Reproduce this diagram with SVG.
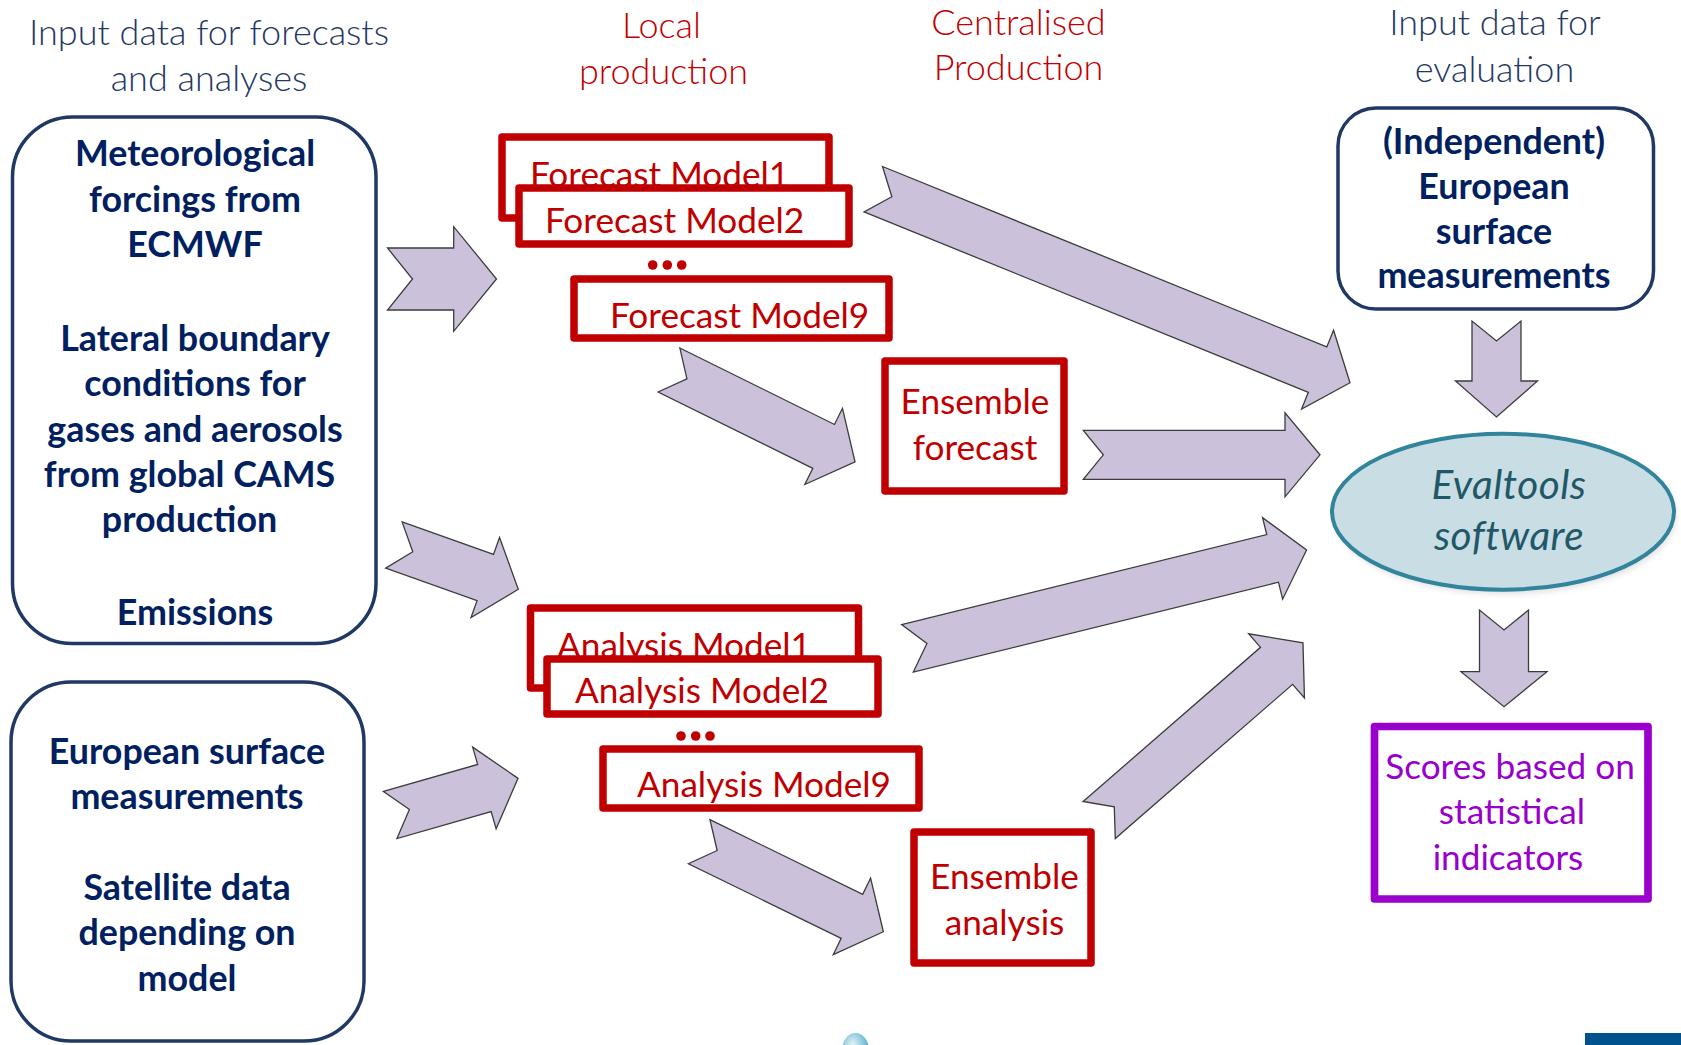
<svg xmlns="http://www.w3.org/2000/svg" width="1681" height="1045" viewBox="0 0 1681 1045">
<defs>
<style>
text{font-family:Lato,'Open Sans','Liberation Sans',sans-serif;font-size:35.2px}
.t{font-weight:300;fill:#1f3864;text-anchor:middle;font-size:36px}
.tr{font-weight:300;fill:#c00000;text-anchor:middle;font-size:36px}
.b{font-weight:700;fill:#002060;text-anchor:middle;font-size:35.8px}
.rt{fill:#c00000}
.rtc{fill:#c00000;text-anchor:middle}
.nb{fill:none;stroke:#1f3864;stroke-width:3.5}
.rb{fill:#fff;stroke:#c00000;stroke-width:7.5;stroke-linejoin:round}
.arr{fill:#ccc1da;stroke:#3c3c3c;stroke-width:1.3;stroke-linejoin:miter}
.dot{fill:#c00000}
.ev{fill:#215868;font-style:italic;text-anchor:middle;font-size:40.5px;letter-spacing:0.5px}
.sc{fill:#9900cc;text-anchor:middle}
</style>
<radialGradient id="bub" cx="0.4" cy="0.35" r="0.7">
<stop offset="0" stop-color="#e6f5fa"/>
<stop offset="1" stop-color="#3fa3c4"/>
</radialGradient>
<filter id="sh" x="-0.1" y="-0.1" width="1.2" height="1.3"><feGaussianBlur stdDeviation="3"/></filter>
</defs>
<rect width="1681" height="1045" fill="#fff"/>

<g id="titles">
<text class="t" x="209" y="45">Input data for forecasts</text>
<text class="t" x="209" y="90.7">and analyses</text>
<text class="tr" x="661.5" y="38">Local</text>
<text class="tr" x="663.5" y="84">production</text>
<text class="tr" x="1018.5" y="35">Centralised</text>
<text class="tr" x="1018.5" y="80">Production</text>
<text class="t" x="1495" y="35">Input data for</text>
<text class="t" x="1494.5" y="81.7">evaluation</text>
</g>

<g id="connectors">
<polygon class="arr" transform="translate(387.5,279)" points="0,-31 66.2,-31 66.2,-52.3 109,0 66.2,52.3 66.2,31 0,31 25,0"/>
<polygon class="arr" transform="translate(393.9,545) rotate(19.6)" points="0,-24.5 97,-24.5 97,-42.5 132,0 97,42.5 97,24.5 0,24.5 20,0"/>
<polygon class="arr" transform="translate(390.2,815) rotate(-16)" points="0,-24.5 98,-24.5 98,-42.5 133,0 98,42.5 98,24.5 0,24.5 20,0"/>
<polygon class="arr" transform="translate(669,370) rotate(26.3)" points="0,-24.5 172.5,-24.5 172.5,-42.5 207.5,0 172.5,42.5 172.5,24.5 0,24.5 20,0"/>
<polygon class="arr" transform="translate(699.2,841.7) rotate(26.05)" points="0,-24.5 170,-24.5 170,-42.5 205,0 170,42.5 170,24.5 0,24.5 20,0"/>
<polygon class="arr" transform="translate(873.3,189.2) rotate(22.1)" points="0,-24.5 479.5,-24.5 479.5,-42.5 514.5,0 479.5,42.5 479.5,24.5 0,24.5 20,0"/>
<polygon class="arr" transform="translate(1083.3,454.8)" points="0,-24.5 201.7,-24.5 201.7,-42 236.7,0 201.7,42 201.7,24.5 0,24.5 20,0"/>
<polygon class="arr" transform="translate(907.5,648.3) rotate(-13.83)" points="0,-24.5 376,-24.5 376,-42 411,0 376,42 376,24.5 0,24.5 20,0"/>
<polygon class="arr" transform="translate(1099.2,820) rotate(-41)" points="0,-24.5 235,-24.5 235,-42.5 270,0 235,42.5 235,24.5 0,24.5 20,0"/>
<polygon class="arr" transform="translate(1496.5,321) rotate(90)" points="0,-24.5 60,-24.5 60,-41 96,0 60,41 60,24.5 0,24.5 20,0"/>
<polygon class="arr" transform="translate(1504,610) rotate(90)" points="0,-24.5 61.7,-24.5 61.7,-43 96.7,0 61.7,43 61.7,24.5 0,24.5 20,0"/>
</g>

<g id="inputs-forecast">
<rect class="nb" x="12.5" y="117" width="363.5" height="526.5" rx="60"/>
<text class="b" x="195" y="165.7">Meteorological</text>
<text class="b" x="195" y="211.5">forcings from</text>
<text class="b" x="195" y="257">ECMWF</text>
<text class="b" x="195" y="350.5">Lateral boundary</text>
<text class="b" x="195" y="395.5">conditions for</text>
<text class="b" x="195" y="441.5">gases and aerosols</text>
<text class="b" x="189.5" y="486.5">from global CAMS</text>
<text class="b" x="189.5" y="531.5">production</text>
<text class="b" x="195" y="624.5">Emissions</text>
</g>

<g id="inputs-analysis">
<rect class="nb" x="11" y="682" width="353" height="359" rx="60"/>
<text class="b" x="187" y="764">European surface</text>
<text class="b" x="187" y="809">measurements</text>
<text class="b" x="187" y="899.5">Satellite data</text>
<text class="b" x="187" y="945">depending on</text>
<text class="b" x="187" y="990.5">model</text>
</g>

<g id="forecast-model1">
<rect class="rb" x="502" y="137" width="327" height="81"/>
<text class="rt" x="530" y="187">Forecast Model1</text>
</g>
<g id="forecast-model2">
<rect class="rb" x="519" y="188" width="330" height="56"/>
<text class="rt" x="545" y="233">Forecast Model2</text>
</g>
<g id="forecast-dots">
<circle class="dot" cx="652.7" cy="265" r="4.8"/>
<circle class="dot" cx="667.3" cy="265" r="4.8"/>
<circle class="dot" cx="681.7" cy="265" r="4.8"/>
</g>
<g id="forecast-model9">
<rect class="rb" x="574" y="279" width="315" height="59"/>
<text class="rt" x="610" y="328">Forecast Model9</text>
</g>
<g id="ensemble-forecast">
<rect class="rb" x="885" y="361" width="179" height="130"/>
<text class="rtc" x="975" y="414">Ensemble</text>
<text class="rtc" x="975" y="460">forecast</text>
</g>

<g id="analysis-model1">
<rect class="rb" x="530.5" y="608" width="328" height="80"/>
<text class="rt" x="557" y="658">Analysis Model1</text>
</g>
<g id="analysis-model2">
<rect class="rb" x="547" y="659" width="331" height="55"/>
<text class="rt" x="575" y="703.3">Analysis Model2</text>
</g>
<g id="analysis-dots">
<circle class="dot" cx="681" cy="736" r="4.8"/>
<circle class="dot" cx="695.7" cy="736" r="4.8"/>
<circle class="dot" cx="710" cy="736" r="4.8"/>
</g>
<g id="analysis-model9">
<rect class="rb" x="603" y="749" width="316" height="59"/>
<text class="rt" x="637" y="796.7">Analysis Model9</text>
</g>
<g id="ensemble-analysis">
<rect class="rb" x="914" y="832" width="177" height="131"/>
<text class="rtc" x="1004.5" y="889">Ensemble</text>
<text class="rtc" x="1004.5" y="935">analysis</text>
</g>

<g id="eval-measurements">
<rect class="nb" x="1338" y="108" width="315.5" height="201" rx="38"/>
<text class="b" x="1494" y="153.5">(Independent)</text>
<text class="b" x="1494" y="199">European</text>
<text class="b" x="1494" y="244">surface</text>
<text class="b" x="1494" y="288">measurements</text>
</g>

<g id="evaltools">
<ellipse cx="1505" cy="516" rx="171" ry="78" fill="#000" opacity="0.12" filter="url(#sh)"/>
<ellipse cx="1503" cy="511.7" rx="171" ry="78" fill="#c9dde4" stroke="#31849b" stroke-width="4"/>
<text class="ev" x="1509" y="499">Evaltools</text>
<text class="ev" x="1509" y="550">software</text>
</g>

<g id="scores">
<rect x="1374.5" y="726.5" width="273.5" height="172.5" fill="#fff" stroke="#9900cc" stroke-width="7.7" stroke-linejoin="round"/>
<text class="sc" x="1510" y="778.5">Scores based on</text>
<text class="sc" x="1512" y="824">statistical</text>
<text class="sc" x="1508" y="870">indicators</text>
</g>

<g id="decor">
<ellipse cx="855.5" cy="1050" rx="13.5" ry="17" fill="url(#bub)"/>
<rect x="1585" y="1033" width="96" height="12" fill="#00528f"/>
</g>
</svg>
